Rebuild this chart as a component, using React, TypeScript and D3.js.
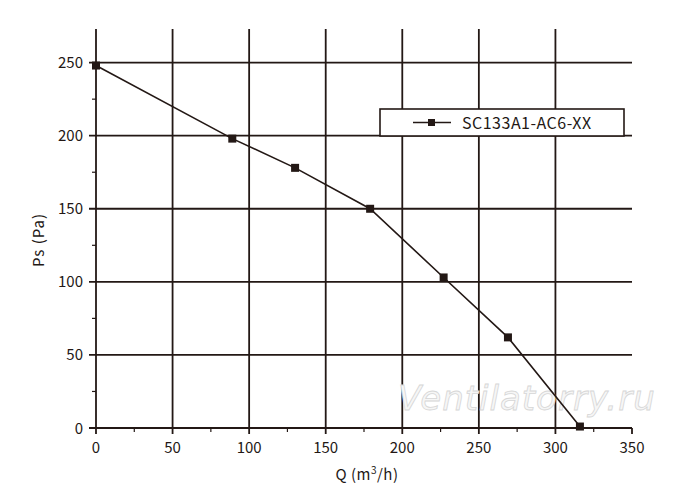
import React from 'react'
import * as d3 from 'd3'

// curve
const flow = [0, 89, 130, 179, 227, 269, 316]
const pressure = [248, 198, 178, 150, 103, 62, 1]
const xTicks = [0, 50, 100, 150, 200, 250, 300, 350]
const yTicks = [0, 50, 100, 150, 200, 250]
const xMinor = [25, 75, 125, 175, 225, 275, 325]
const yMinor = [25, 75, 125, 175, 225]
const seriesName = 'SC133A1-AC6-XX'

const ink = '#231815'
const font = '"Noto Sans CJK SC", "Noto Sans", sans-serif'

export default function App() {
  const width = 700
  const height = 503
  const margin = { top: 29, right: 68, bottom: 75, left: 96 }

  const x = d3.scaleLinear().domain([0, 350]).range([margin.left, width - margin.right])
  const y = d3.scaleLinear().domain([0, 273]).range([height - margin.bottom, margin.top])

  const line = d3.line<number>()
    .x((_, i) => x(flow[i]))
    .y(d => y(d))

  const y0 = y(0)
  const yTop = y(273)

  return (
    <svg width={width} height={height} style={{ position: 'absolute', left: 0, top: 0, background: '#fff' }}>
      {/* grid */}
      {xTicks.filter(t => t > 0 && t < 350).map(t => (
        <line key={'gx' + t} x1={x(t)} x2={x(t)} y1={yTop} y2={y0 + 6} stroke={ink} strokeWidth={1.8} />
      ))}
      {yTicks.filter(t => t > 0).map(t => (
        <line key={'gy' + t} x1={x(0) - 7} x2={x(350)} y1={y(t)} y2={y(t)} stroke={ink} strokeWidth={1.8} />
      ))}

      {/* axes */}
      <line x1={x(0)} x2={x(0)} y1={yTop} y2={y0 + 6} stroke={ink} strokeWidth={1.8} />
      <line x1={x(0) - 7} x2={x(350)} y1={y0} y2={y0} stroke={ink} strokeWidth={1.8} />
      <line x1={x(350)} x2={x(350)} y1={y0} y2={y0 + 6} stroke={ink} strokeWidth={1.8} />
      {xMinor.map(t => (
        <line key={'mx' + t} x1={x(t)} x2={x(t)} y1={y0} y2={y0 + 4} stroke={ink} strokeWidth={1.2} />
      ))}
      {yMinor.map(t => (
        <line key={'my' + t} x1={x(0) - 4} x2={x(0)} y1={y(t)} y2={y(t)} stroke={ink} strokeWidth={1.2} />
      ))}

      {/* tick labels */}
      {xTicks.map(t => (
        <text key={'tx' + t} x={x(t)} y={y0 + 25} textAnchor="middle" fontFamily={font} fontSize={15} fill={ink}>{t}</text>
      ))}
      {yTicks.map(t => (
        <text key={'ty' + t} x={x(0) - 13} y={y(t) + 5.5} textAnchor="end" fontFamily={font} fontSize={15} fill={ink}>{t}</text>
      ))}

      {/* axis titles */}
      <text x={367} y={480} textAnchor="middle" fontFamily={font} fontSize={15} fill={ink} letterSpacing={0.5}>
        Q (m<tspan dy={-6} fontSize={10}>3</tspan><tspan dy={6}>/h)</tspan>
      </text>
      <text transform="translate(44,240) rotate(-90)" textAnchor="middle" fontFamily={font} fontSize={15} fill={ink} letterSpacing={1}>Ps (Pa)</text>

      {/* watermark */}
      <text x={398} y={410} fontFamily='"DejaVu Sans", sans-serif' fontStyle="italic" fontSize={34} fill="#f6f6f6" stroke="#d6d6d6" strokeWidth={0.8} letterSpacing={1}>Ventilatorry.ru</text>

      {/* series */}
      <path d={line(pressure) || ''} fill="none" stroke={ink} strokeWidth={1.6} />
      {pressure.map((p, i) => (
        <rect key={'pt' + i} x={x(flow[i]) - 4} y={y(p) - 4} width={8} height={8} fill={ink} />
      ))}

      {/* legend */}
      <rect x={380} y={109} width={244} height={27} fill="#fff" stroke={ink} strokeWidth={1.6} />
      <line x1={413} x2={451} y1={122.5} y2={122.5} stroke={ink} strokeWidth={1.6} />
      <rect x={428} y={119} width={7} height={7} fill={ink} />
      <text x={462} y={128.5} fontFamily={font} fontSize={16} fill={ink} letterSpacing={0.5}>{seriesName}</text>
    </svg>
  )
}
